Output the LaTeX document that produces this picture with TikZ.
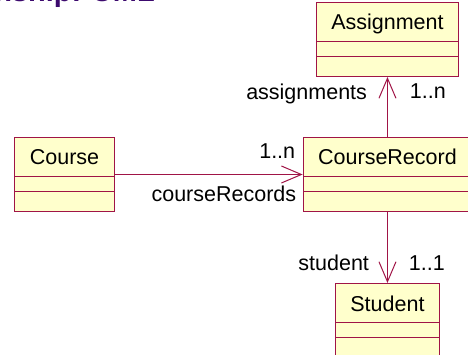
\documentclass[tikz,border=0pt]{standalone}
\usepackage{fontspec}
\setmainfont{Liberation Sans}
\usetikzlibrary{positioning}
\usetikzlibrary{shapes.multipart}
\usetikzlibrary{arrows.meta}

\definecolor{umlred}{RGB}{160,20,70}
\definecolor{umlfill}{RGB}{255,255,204}
\definecolor{titlepurple}{RGB}{60,10,110}

% name, attribute and operation compartments of a class box
\newcommand{\umlname}[1]{\rule[-11pt]{0pt}{38pt}#1\nodepart{two}\rule{0pt}{14pt}\nodepart{three}\rule{0pt}{19pt}}

\tikzset{
  umlclass/.style={rectangle split, rectangle split parts=3, draw=umlred,
    fill=umlfill, line width=1pt, inner xsep=15pt, inner ysep=0pt,
    font=\fontsize{21.5}{26}\selectfont},
  assoc/.style={draw=umlred, line width=1pt,
    -{Straight Barb[length=20pt, width=17pt]}},
  rolename/.style={inner sep=0pt, font=\fontsize{21.5}{26}\selectfont}
}

\begin{document}
\begin{tikzpicture}[x=1pt, y=-1pt]
    \useasboundingbox (0,0) rectangle (468,355);
    \clip (0,0) rectangle (468,355);

    \node (title) [anchor=base east, inner sep=0pt, text=titlepurple,
      font=\fontsize{29}{34}\selectfont\bfseries] at (155,2) {Relationship: UML};

    \node (course) [umlclass] at (64.5,174.5) {\umlname{Course}};
    \node (crec) [umlclass, right=188pt of course] {\umlname{CourseRecord}};
    \node (asg) [umlclass, above=60pt of crec] {\umlname{Assignment}};
    \node (stu) [umlclass, below=71pt of crec] {\umlname{Student}};

    \draw[assoc] (course) -- (crec)
      node (mrec) [rolename, pos=1, anchor=base east, xshift=-7pt, yshift=16pt] {1..n}
      node (rrec) [rolename, pos=1, anchor=base east, xshift=-6pt, yshift=-27pt] {courseRecords};
    \draw[assoc] (crec) -- (asg)
      node (rasg) [rolename, pos=1, anchor=base east, xshift=-20pt, yshift=-23pt] {assignments}
      node (masg) [rolename, pos=1, anchor=base west, xshift=22pt, yshift=-22pt] {1..n};
    \draw[assoc] (crec) -- (stu)
      node (rstu) [rolename, pos=1, anchor=base east, xshift=-18pt, yshift=13pt] {student}
      node (mstu) [rolename, pos=1, anchor=base west, xshift=21pt, yshift=13pt] {1..1};

  \end{tikzpicture}
\end{document}
